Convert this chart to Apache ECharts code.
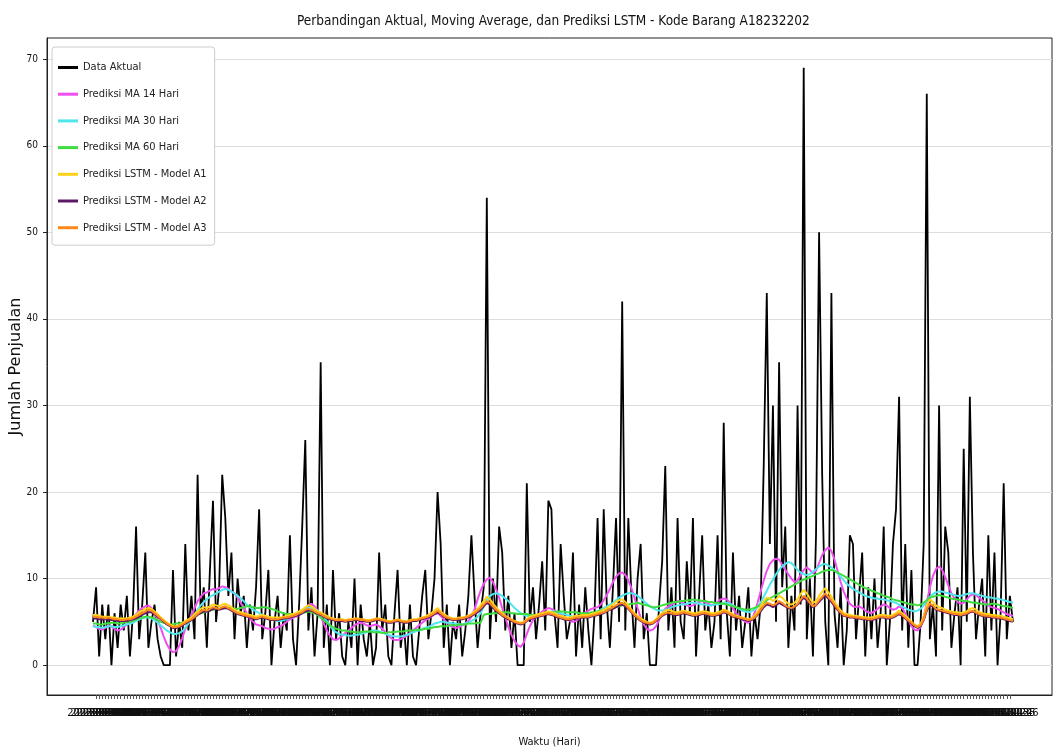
<!DOCTYPE html>
<html>
<head>
<meta charset="utf-8">
<script src="https://cdn.jsdelivr.net/npm/echarts@6/dist/echarts.min.js"></script>
<style>
html,body{margin:0;padding:0;background:#fff;}
#chart{width:1056px;height:751px;}
</style>
</head>
<body>
<div id="chart"></div>
<script>
// ---- Data ----
const startDate = '2023-01-01';
const nDays = 300;
const categories = [];
(function(){ const d = new Date(startDate + 'T00:00:00Z'); for (let k = 0; k < nDays; k++) { const t = new Date(d.getTime() + k*86400000); categories.push(t.toISOString().slice(0,10)); } })();

const yTicks = [0, 10, 20, 30, 40, 50, 60, 70];

const actual = [
5,9,1,7,3,7,0,6,2,7,
4,8,1,6,16,3,7,13,2,5,
7,3,1,0,0,0,11,1,5,2,
14,4,8,3,22,6,9,2,11,19,
5,9,22,17,8,13,3,10,6,8,
2,7,4,9,18,3,6,11,0,5,
8,2,6,4,15,3,0,7,16,26,
4,9,1,6,35,2,7,0,11,3,
6,1,0,5,2,10,0,7,3,1,
5,0,2,13,4,7,1,0,6,11,
2,5,0,7,1,0,4,8,11,3,
6,10,20,14,2,7,0,5,3,7,
1,4,8,15,8,2,6,9,54,3,
10,5,16,13,4,8,2,6,0,0,
0,21,5,9,3,7,12,4,19,18,
6,2,14,8,3,5,13,1,7,2,
9,4,0,6,17,3,18,7,2,9,
17,5,42,4,17,8,2,10,14,3,
6,0,0,0,7,12,23,4,9,2,
17,5,3,12,6,17,1,8,15,4,
7,2,5,15,3,28,6,1,13,4,
8,2,5,9,1,6,3,7,23,43,
14,30,5,35,9,16,2,8,4,30,
7,69,3,10,1,15,50,22,5,0,
43,6,2,9,0,4,15,14,3,8,
13,1,9,3,10,2,6,16,0,5,
14,18,31,4,14,2,11,0,0,5,
14,66,3,7,1,30,4,16,13,2,
6,9,0,25,5,31,13,3,7,10,
1,15,4,13,0,6,21,3,8,5
];

const ma14 = [
4.6,4.4,4.2,4.1,4.3,4.6,4.5,4.2,4.0,4.1,
4.4,4.7,4.9,5.3,5.9,6.3,6.6,6.8,6.9,6.6,
6.0,5.2,4.3,3.3,2.4,1.8,1.5,1.6,2.2,3.1,
4.2,4.9,5.8,6.6,7.4,7.9,8.3,8.4,8.6,8.8,
8.7,8.9,9.1,9.0,8.8,8.5,8.3,7.8,7.2,6.6,
6.0,5.4,5.0,4.7,4.6,4.5,4.3,4.2,4.1,4.2,
4.4,4.5,4.7,5.0,5.3,5.5,5.6,5.8,6.0,6.5,
6.9,7.1,6.8,6.3,5.6,4.8,4.0,3.4,3.0,2.9,
3.1,3.4,3.7,4.0,4.3,4.6,4.8,4.9,4.8,4.6,
4.5,4.6,4.7,4.5,4.2,3.8,3.4,3.1,2.9,2.9,
3.0,3.2,3.4,3.7,4.0,4.3,4.6,4.9,5.2,5.4,
5.6,5.9,6.0,5.7,5.3,4.9,4.6,4.4,4.3,4.4,
4.6,4.8,5.1,5.6,6.4,7.6,8.6,9.4,9.9,10.1,
9.6,8.8,7.8,6.6,5.5,4.4,3.5,2.8,2.3,2.1,
2.6,3.6,4.5,5.2,5.7,5.9,6.2,6.4,6.6,6.5,
6.3,6.1,5.9,5.6,5.3,5.1,5.0,5.1,5.4,5.8,
6.1,6.3,6.5,6.6,6.7,7.0,7.5,8.1,8.8,9.6,
10.2,10.6,10.7,10.4,9.8,8.9,7.8,6.6,5.5,4.7,
4.2,4.0,4.1,4.5,5.2,5.9,6.5,6.8,7.0,7.2,
7.4,7.3,7.1,6.9,6.8,6.9,7.1,7.3,7.4,7.3,
7.1,6.9,7.0,7.3,7.6,7.7,7.6,7.2,6.6,6.0,
5.6,5.3,5.0,4.9,5.2,6.0,7.2,8.5,9.8,10.9,
11.7,12.1,12.3,12.2,11.6,11.0,10.5,10.0,9.6,9.8,
10.4,11.0,11.3,11.0,10.6,10.9,11.8,12.7,13.3,13.6,
13.2,12.2,10.9,9.6,8.5,7.7,7.1,6.8,6.7,6.8,
6.6,6.3,6.1,6.0,6.2,6.5,6.8,7.0,6.9,6.6,
6.4,6.5,6.8,6.6,6.0,5.2,4.5,4.1,4.0,4.4,
5.5,7.2,9.0,10.3,11.1,11.4,11.0,10.2,9.2,8.3,
7.7,7.3,7.1,7.2,7.6,8.0,8.2,8.1,7.8,7.5,
7.2,6.9,6.7,6.6,6.5,6.3,6.1,5.9,5.8,5.7
];

const ma30 = [
4.5,4.4,4.4,4.3,4.4,4.5,4.5,4.4,4.4,4.5,
4.6,4.7,4.8,4.9,5.1,5.3,5.4,5.5,5.5,5.4,
5.2,4.9,4.6,4.3,4.0,3.8,3.6,3.6,3.7,3.9,
4.3,4.8,5.3,5.8,6.4,6.9,7.3,7.6,7.9,8.1,
8.3,8.5,8.7,8.8,8.7,8.5,8.3,8.0,7.7,7.4,
7.0,6.7,6.4,6.2,6.0,5.8,5.6,5.4,5.3,5.2,
5.1,5.1,5.2,5.3,5.5,5.7,5.9,6.1,6.3,6.5,
6.6,6.6,6.5,6.3,6.0,5.6,5.1,4.6,4.1,3.8,
3.6,3.5,3.5,3.4,3.4,3.5,3.5,3.6,3.7,3.8,
3.9,4.0,4.0,3.9,3.8,3.6,3.5,3.4,3.3,3.3,
3.3,3.4,3.5,3.6,3.8,3.9,4.0,4.2,4.3,4.4,
4.6,4.8,4.9,5.0,5.0,4.9,4.9,4.8,4.8,4.7,
4.7,4.8,4.9,5.1,5.3,5.6,6.0,6.8,7.6,8.0,
8.2,8.3,8.2,8.0,7.7,7.4,7.0,6.6,6.3,6.0,
5.8,5.7,5.6,5.6,5.7,5.8,5.9,6.0,6.1,6.2,
6.2,6.1,6.0,5.9,5.8,5.7,5.6,5.6,5.5,5.5,
5.6,5.7,5.8,6.0,6.2,6.4,6.6,6.8,7.0,7.2,
7.5,7.8,8.0,8.2,8.3,8.3,8.2,8.0,7.7,7.4,
7.1,6.8,6.6,6.4,6.3,6.3,6.4,6.5,6.7,6.8,
6.9,7.0,7.0,7.1,7.2,7.2,7.2,7.1,7.0,7.0,
6.9,6.9,7.0,7.0,7.1,7.2,7.2,7.1,6.9,6.7,
6.5,6.3,6.2,6.1,6.2,6.4,6.7,7.2,7.9,8.6,
9.3,9.9,10.5,11.0,11.4,11.7,11.9,11.8,11.4,11.0,
10.7,10.5,10.4,10.5,10.8,11.1,11.4,11.6,11.7,11.5,
11.3,11.0,10.6,10.2,9.8,9.4,9.1,8.8,8.6,8.4,
8.2,8.0,7.9,7.8,7.7,7.7,7.6,7.6,7.5,7.4,
7.3,7.2,7.0,6.8,6.6,6.4,6.3,6.2,6.3,6.5,
6.9,7.4,7.9,8.2,8.4,8.5,8.5,8.4,8.3,8.2,
8.1,8.0,8.0,8.1,8.2,8.3,8.3,8.2,8.1,8.0,
7.9,7.8,7.8,7.7,7.7,7.6,7.5,7.4,7.3,7.2
];

const ma60 = [
4.8,4.8,4.7,4.7,4.8,4.8,4.9,4.9,4.8,4.8,
4.9,5.0,5.0,5.1,5.3,5.4,5.5,5.6,5.6,5.5,
5.4,5.2,5.0,4.9,4.8,4.7,4.7,4.8,4.8,4.9,
5.0,5.2,5.4,5.6,5.9,6.0,6.1,6.2,6.3,6.4,
6.5,6.5,6.6,6.7,6.6,6.6,6.5,6.5,6.6,6.7,
6.8,6.8,6.7,6.6,6.6,6.7,6.7,6.6,6.5,6.4,
6.2,6.1,6.0,5.9,5.9,5.8,5.8,5.9,6.0,6.1,
6.2,6.1,6.0,5.8,5.5,5.2,4.9,4.6,4.4,4.2,
4.1,4.0,4.0,3.9,3.9,3.8,3.8,3.8,3.9,3.9,
3.9,3.8,3.8,3.8,3.7,3.7,3.8,3.8,3.8,3.9,
3.9,3.9,4.0,4.0,4.0,4.1,4.1,4.1,4.2,4.2,
4.3,4.4,4.4,4.5,4.5,4.5,4.6,4.6,4.6,4.7,
4.7,4.7,4.8,4.8,4.8,4.9,4.9,5.8,5.9,5.9,
6.0,6.0,6.0,6.1,6.1,6.1,6.0,6.0,5.9,5.9,
5.9,5.9,5.8,5.8,5.8,5.8,5.9,5.9,6.0,6.1,
6.1,6.2,6.2,6.2,6.1,6.1,6.1,6.1,6.0,6.0,
6.0,6.0,6.1,6.1,6.2,6.3,6.4,6.5,6.5,6.6,
6.7,6.8,6.9,7.0,7.0,7.1,7.1,7.2,7.1,7.0,
6.9,6.8,6.7,6.7,6.8,6.9,7.0,7.1,7.2,7.3,
7.3,7.4,7.4,7.5,7.5,7.6,7.5,7.5,7.4,7.4,
7.3,7.3,7.2,7.2,7.1,7.1,7.0,6.9,6.8,6.7,
6.6,6.5,6.4,6.4,6.5,6.6,6.8,7.0,7.2,7.5,
7.7,7.9,8.1,8.3,8.5,8.7,8.9,9.1,9.3,9.5,
9.7,9.9,10.0,10.2,10.3,10.5,10.6,10.8,10.9,11.0,
11.0,10.9,10.7,10.5,10.3,10.1,9.9,9.7,9.5,9.3,
9.1,8.9,8.8,8.6,8.5,8.3,8.2,8.0,7.9,7.8,
7.6,7.5,7.4,7.3,7.2,7.1,7.0,7.0,6.9,7.0,
7.2,7.5,7.8,7.9,8.0,8.1,8.0,7.9,7.8,7.7,
7.6,7.6,7.5,7.4,7.4,7.3,7.2,7.2,7.1,7.1,
7.0,7.0,7.1,7.1,7.0,6.9,6.8,6.8,6.7,6.6
];

const lstmA1 = [
5.8,5.8,5.7,5.6,5.6,5.6,5.5,5.5,5.4,5.4,
5.4,5.4,5.5,5.6,5.8,6.1,6.3,6.5,6.6,6.5,
6.2,5.9,5.5,5.2,4.9,4.7,4.5,4.5,4.6,4.8,
5.1,5.3,5.5,5.9,6.2,6.5,6.7,6.6,6.8,7.0,
6.9,6.8,7.0,7.1,6.9,6.7,6.4,6.2,6.1,6.0,
5.9,5.8,5.7,5.6,5.7,5.8,5.7,5.6,5.5,5.5,
5.5,5.5,5.6,5.7,5.8,5.9,6.0,6.2,6.4,6.7,
6.9,6.8,6.5,6.2,6.1,5.9,5.7,5.5,5.4,5.3,
5.3,5.3,5.2,5.3,5.3,5.4,5.4,5.3,5.3,5.2,
5.2,5.3,5.4,5.4,5.3,5.2,5.1,5.1,5.2,5.3,
5.2,5.1,5.1,5.2,5.3,5.3,5.4,5.5,5.6,5.8,
6.0,6.3,6.6,6.2,5.9,5.7,5.5,5.4,5.4,5.5,
5.5,5.6,5.7,5.9,6.2,6.5,6.9,7.4,7.9,7.6,
7.1,6.7,6.3,6.0,5.7,5.5,5.3,5.1,5.0,4.9,
5.0,5.3,5.6,5.7,5.8,5.9,6.0,6.1,6.2,6.1,
6.0,5.8,5.7,5.6,5.5,5.5,5.6,5.7,5.7,5.8,
5.8,5.8,5.9,6.0,6.1,6.2,6.4,6.6,6.8,7.0,
7.3,7.5,7.6,7.3,6.9,6.4,6.0,5.7,5.4,5.2,
5.0,4.9,5.0,5.3,5.7,6.0,6.3,6.4,6.3,6.1,
6.1,6.2,6.3,6.2,6.1,6.0,6.0,6.1,6.2,6.2,
6.1,6.0,6.0,6.1,6.2,6.4,6.3,6.1,5.9,5.7,
5.6,5.5,5.4,5.3,5.4,5.7,6.2,6.8,7.4,7.8,
7.7,7.4,7.6,8.0,7.8,7.4,7.1,7.0,7.2,7.6,
8.2,8.7,8.3,7.7,7.2,7.4,8.0,8.5,8.9,8.4,
7.9,7.3,6.8,6.3,6.0,5.9,5.8,5.7,5.7,5.6,
5.6,5.5,5.5,5.5,5.6,5.7,5.8,5.8,5.7,5.7,
5.8,6.0,6.3,6.0,5.7,5.4,5.0,4.7,4.5,4.8,
5.6,6.9,7.6,7.3,6.9,6.7,6.6,6.4,6.3,6.2,
6.1,6.1,6.0,6.1,6.2,6.5,6.6,6.4,6.1,6.0,
5.9,5.9,5.8,5.8,5.7,5.7,5.6,5.5,5.4,5.3
];

const lstmA2 = [
5.4,5.4,5.3,5.3,5.3,5.3,5.2,5.2,5.1,5.1,
5.1,5.1,5.2,5.3,5.4,5.6,5.8,6.0,6.1,6.1,
5.9,5.6,5.3,5.0,4.7,4.5,4.3,4.3,4.4,4.6,
4.8,5.0,5.2,5.5,5.8,6.0,6.2,6.2,6.3,6.5,
6.5,6.4,6.5,6.6,6.5,6.3,6.1,5.9,5.8,5.7,
5.6,5.5,5.4,5.3,5.4,5.5,5.4,5.3,5.2,5.2,
5.2,5.3,5.4,5.4,5.5,5.6,5.7,5.8,6.0,6.2,
6.3,6.3,6.1,5.9,5.8,5.6,5.4,5.3,5.2,5.1,
5.1,5.1,5.0,5.1,5.1,5.2,5.2,5.1,5.1,5.0,
5.0,5.1,5.2,5.2,5.1,5.0,4.9,4.9,5.0,5.1,
5.0,4.9,4.9,5.0,5.1,5.1,5.2,5.3,5.4,5.5,
5.7,5.9,6.1,5.9,5.6,5.4,5.3,5.2,5.2,5.3,
5.3,5.4,5.5,5.7,5.9,6.1,6.4,6.8,7.2,7.0,
6.6,6.3,6.0,5.7,5.5,5.3,5.1,4.9,4.8,4.7,
4.8,5.1,5.3,5.4,5.5,5.6,5.7,5.8,5.9,5.8,
5.7,5.5,5.4,5.3,5.2,5.2,5.3,5.4,5.4,5.5,
5.5,5.5,5.6,5.7,5.8,5.9,6.0,6.2,6.4,6.5,
6.7,6.9,7.0,6.8,6.5,6.1,5.7,5.4,5.1,4.9,
4.8,4.7,4.8,5.1,5.4,5.7,5.9,6.0,5.9,5.8,
5.8,5.9,6.0,5.9,5.8,5.7,5.7,5.8,5.9,5.9,
5.8,5.7,5.7,5.8,5.9,6.1,6.0,5.8,5.6,5.5,
5.4,5.3,5.2,5.1,5.2,5.4,5.8,6.2,6.7,7.0,
6.9,6.7,6.9,7.2,7.0,6.8,6.6,6.5,6.7,7.0,
7.4,7.8,7.5,7.1,6.7,6.9,7.3,7.7,8.1,7.7,
7.3,6.8,6.4,6.0,5.7,5.6,5.5,5.5,5.4,5.4,
5.3,5.3,5.2,5.2,5.3,5.4,5.5,5.5,5.4,5.4,
5.5,5.7,5.9,5.7,5.4,5.1,4.8,4.5,4.3,4.5,
5.2,6.3,6.9,6.8,6.4,6.3,6.2,6.1,6.0,5.9,
5.8,5.8,5.7,5.8,5.9,6.1,6.2,6.0,5.8,5.7,
5.6,5.6,5.5,5.5,5.4,5.4,5.3,5.2,5.1,5.0
];

const lstmA3 = [
5.6,5.6,5.5,5.5,5.4,5.5,5.4,5.3,5.3,5.2,
5.2,5.3,5.3,5.4,5.6,5.8,6.0,6.2,6.4,6.3,
6.0,5.7,5.4,5.1,4.8,4.6,4.4,4.4,4.5,4.7,
4.9,5.1,5.3,5.6,5.9,6.2,6.4,6.3,6.5,6.7,
6.6,6.5,6.7,6.8,6.6,6.4,6.2,6.0,5.9,5.8,
5.7,5.6,5.5,5.4,5.5,5.6,5.5,5.4,5.3,5.3,
5.3,5.4,5.5,5.5,5.6,5.7,5.8,6.0,6.1,6.4,
6.5,6.4,6.2,6.0,5.9,5.7,5.5,5.4,5.3,5.2,
5.2,5.2,5.1,5.2,5.2,5.3,5.3,5.2,5.2,5.1,
5.1,5.2,5.3,5.3,5.2,5.1,5.0,5.0,5.1,5.2,
5.1,5.0,5.0,5.1,5.2,5.2,5.3,5.4,5.5,5.6,
5.8,6.0,6.3,6.0,5.7,5.5,5.4,5.3,5.3,5.4,
5.4,5.5,5.6,5.8,6.0,6.3,6.6,7.0,7.4,7.2,
6.8,6.4,6.1,5.8,5.6,5.4,5.2,5.0,4.9,4.8,
4.9,5.2,5.4,5.5,5.6,5.7,5.8,5.9,6.0,5.9,
5.8,5.6,5.5,5.4,5.3,5.3,5.4,5.5,5.5,5.6,
5.6,5.6,5.7,5.8,5.9,6.0,6.1,6.3,6.5,6.7,
6.9,7.1,7.2,7.0,6.6,6.2,5.8,5.5,5.2,5.0,
4.9,4.8,4.9,5.2,5.5,5.8,6.0,6.1,6.0,5.9,
5.9,6.0,6.1,6.0,5.9,5.8,5.8,5.9,6.0,6.0,
5.9,5.8,5.8,5.9,6.0,6.2,6.1,5.9,5.7,5.6,
5.5,5.4,5.3,5.2,5.3,5.5,5.9,6.4,6.9,7.2,
7.1,6.9,7.1,7.4,7.2,6.9,6.7,6.6,6.8,7.1,
7.6,8.0,7.7,7.2,6.8,7.0,7.5,7.9,8.3,7.9,
7.5,7.0,6.5,6.1,5.8,5.7,5.6,5.6,5.5,5.5,
5.4,5.4,5.3,5.3,5.4,5.5,5.6,5.6,5.5,5.5,
5.6,5.8,6.0,5.8,5.5,5.2,4.9,4.6,4.4,4.6,
5.3,6.5,7.1,6.9,6.5,6.4,6.3,6.2,6.1,6.0,
5.9,5.9,5.8,5.9,6.0,6.2,6.3,6.1,5.9,5.8,
5.7,5.7,5.6,5.6,5.5,5.5,5.4,5.3,5.2,5.1
];

const seriesNames = ['Data Aktual','Prediksi MA 14 Hari','Prediksi MA 30 Hari','Prediksi MA 60 Hari','Prediksi LSTM - Model A1','Prediksi LSTM - Model A2','Prediksi LSTM - Model A3'];
const seriesColors = ['#000000','#ee4fee','#4fe6ee','#3fdc3f','#ffd21a','#5c1a66','#ff8a1a'];
const seriesData = [actual, ma14, ma30, ma60, lstmA1, lstmA2, lstmA3];
const seriesWidths = [1.8, 2, 2, 2, 2, 2, 2];

const tickIdx = categories.map((c, i) => i);

const NARROW = "'Liberation Sans Narrow','DejaVu Sans Condensed','Arial Narrow',sans-serif";

const chart = echarts.init(document.getElementById('chart'), null, {renderer: 'canvas'});
chart.setOption({
  animation: false,
  backgroundColor: '#ffffff',
  title: {
    text: 'Perbandingan Aktual, Moving Average, dan Prediksi LSTM - Kode Barang A18232202',
    left: 292, top: 9,
    textStyle: {fontFamily: NARROW, fontSize: 13.5, fontWeight: 'normal', color: '#111'}
  },
  legend: {
    orient: 'vertical', left: 52, top: 47,
    padding: [14, 8, 11, 6],
    itemWidth: 20, itemHeight: 3, itemGap: 13.7,
    icon: 'rect',
    backgroundColor: '#ffffff',
    borderColor: '#cccccc', borderWidth: 1, borderRadius: 3,
    textStyle: {fontFamily: NARROW, fontSize: 11, color: '#222', lineHeight: 13},
    data: seriesNames
  },
  grid: {left: 47, right: 4, top: 38, bottom: 56, show: true, borderColor: '#222', borderWidth: 1,
    containLabel: false, outerBoundsMode: 'none'},
  xAxis: {
    type: 'value',
    min: -14.95, max: 311.7,
    name: 'Waktu (Hari)', nameLocation: 'middle', nameGap: 42, nameMoveOverlap: false,
    nameTextStyle: {fontFamily: NARROW, fontSize: 11, color: '#111'},
    axisLine: {show: true, onZero: false, lineStyle: {color: '#222', width: 1}},
    axisTick: {show: true, length: 4, lineStyle: {color: '#555', width: 1}, customValues: tickIdx},
    axisLabel: {show: true, customValues: tickIdx, margin: 13, fontFamily: NARROW, fontSize: 11, color: '#111',
      formatter: v => categories[Math.round(v)] || ''},
    splitLine: {show: false}
  },
  yAxis: {
    type: 'value',
    min: -3.45, max: 72.45,
    name: 'Jumlah Penjualan', nameLocation: 'middle', nameGap: 23, nameRotate: 90, nameMoveOverlap: false,
    nameTextStyle: {fontFamily: "'DejaVu Sans',sans-serif", fontSize: 16, color: '#111'},
    axisLine: {show: true, onZero: false, lineStyle: {color: '#222', width: 1}},
    axisTick: {show: true, length: 4, lineStyle: {color: '#222'}, customValues: yTicks},
    axisLabel: {show: true, customValues: yTicks, margin: 9, fontFamily: NARROW, fontSize: 10, color: '#111'},
    splitLine: {show: true, lineStyle: {color: '#dddddd', width: 1}}
  },
  series: seriesNames.map((name, s) => ({
    name: name,
    type: 'line',
    data: seriesData[s].map((v, i) => [i, v]),
    showSymbol: false,
    symbol: 'none',
    color: seriesColors[s],
    lineStyle: {color: seriesColors[s], width: seriesWidths[s]},
    z: 2 + s
  }))
});
</script>
</body>
</html>
